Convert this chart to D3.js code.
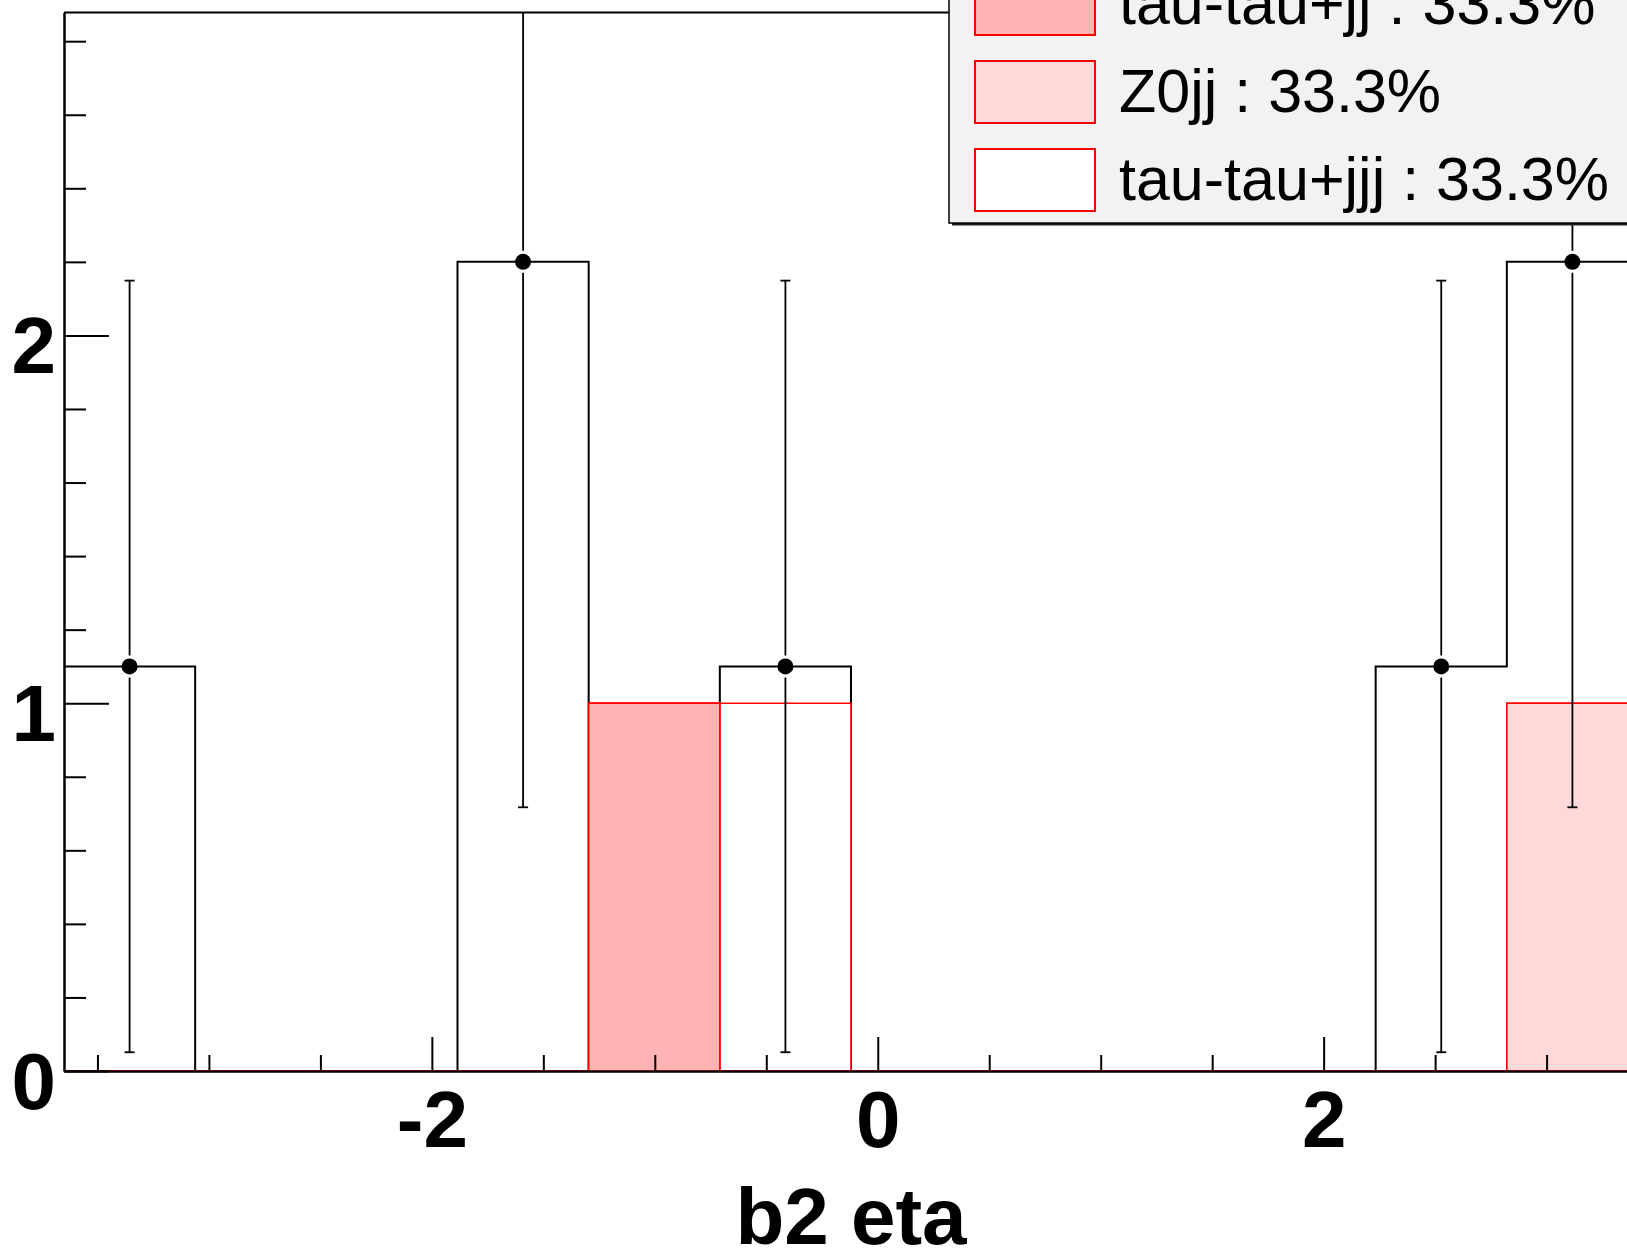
<!DOCTYPE html>
<html>
<head>
<meta charset="utf-8">
<script src="https://cdn.jsdelivr.net/npm/d3@7"></script>
<style>
  html, body { margin: 0; padding: 0; background: #ffffff; }
  svg { display: block; }
  text { font-family: "Liberation Sans", Arial, Helvetica, sans-serif; }
</style>
</head>
<body>
<svg id="chart" width="1627" height="1251"></svg>
<script>
// ---------------- data ----------------
const xRange = [-3.65, 3.41];
const nBins = 12;
const dataValues = [1.1, 0, 0, 2.2, 0, 1.1, 0, 0, 0, 0, 1.1, 2.2];
const dataErrors = [1.049, 0, 0, 1.483, 0, 1.049, 0, 0, 0, 0, 1.049, 1.483];
const ttjjValues  = [0, 0, 0, 0, 1, 0, 0, 0, 0, 0, 0, 0];
const z0jjValues  = [0, 0, 0, 0, 0, 0, 0, 0, 0, 0, 0, 1];
const ttjjjValues = [0, 0, 0, 0, 0, 1, 0, 0, 0, 0, 0, 0];
const seriesKeys   = ["ttjj", "z0jj", "ttjjj"];
const legendLabels = ["tau-tau+jj : 33.3%", "Z0jj : 33.3%", "tau-tau+jjj : 33.3%"];
const seriesFills  = ["#ffb3b3", "#ffd9d9", "#ffffff"];
const xMajorTicks = [-2, 0, 2];
const xMinorTicks = [-3.5, -3, -2.5, -1.5, -1, -0.5, 0.5, 1, 1.5, 2.5, 3];
const yMajorTicks = [0, 1, 2];
const yMinorTicks = [0.2, 0.4, 0.6, 0.8, 1.2, 1.4, 1.6, 1.8, 2.2, 2.4, 2.6, 2.8];
const yMax = 2.878;
const xTitle = "b2 eta";

// ---------------- layout ----------------
const L = 64, R = 1638, T = 12.5, B = 1071;
const svg = d3.select("#chart");
const x = d3.scaleLinear().domain(xRange).range([L, R]);
const y = d3.scaleLinear().domain([0, yMax]).range([B, T]);
const binW = (xRange[1] - xRange[0]) / nBins;
const edges = d3.range(nBins + 1).map(i => xRange[0] + i * binW);

svg.append("defs").append("clipPath").attr("id", "plotclip")
  .append("rect").attr("x", L).attr("y", T).attr("width", R - L).attr("height", B - T);

// frame
svg.append("line").attr("x1", L).attr("x2", R).attr("y1", T).attr("y2", T)
  .attr("stroke", "#000").attr("stroke-width", 2);
svg.append("line").attr("x1", R).attr("x2", R).attr("y1", T).attr("y2", B)
  .attr("stroke", "#000").attr("stroke-width", 2);

const plot = svg.append("g").attr("clip-path", "url(#plotclip)");

function stepPoints(vals) {
  const pts = [[edges[0], 0]];
  vals.forEach((v, i) => { pts.push([edges[i], v]); pts.push([edges[i + 1], v]); });
  pts.push([edges[nBins], 0]);
  return pts;
}
const lineGen = d3.line().x(d => x(d[0])).y(d => y(d[1]));

// stacked MC fills
const table = d3.range(nBins).map(i => ({
  ttjj: ttjjValues[i], z0jj: z0jjValues[i], ttjjj: ttjjjValues[i]
}));
const stacked = d3.stack().keys(seriesKeys)(table);
const areaGen = d3.area().x(d => x(d[0])).y0(y(0)).y1(d => y(d[1]));

// data histogram outline (black)
plot.append("path").attr("d", lineGen(stepPoints(dataValues)))
  .attr("fill", "none").attr("stroke", "#000").attr("stroke-width", 2);

for (let s = stacked.length - 1; s >= 0; s--) {
  const tops = stacked[s].map(d => d[1]);
  const pts = stepPoints(tops);
  plot.append("path").attr("d", areaGen(pts)).attr("fill", seriesFills[s]).attr("stroke", "none");
  plot.append("path").attr("d", lineGen(pts))
    .attr("fill", "none").attr("stroke", "#ff0000").attr("stroke-width", 1.6);
}

// axes
const xAxisMajor = d3.axisBottom(x).tickValues(xMajorTicks).tickSizeInner(-34).tickSizeOuter(0)
  .tickPadding(0).tickFormat(d => d3.format("d")(d).replace("−", "-"));
const xAxisMinor = d3.axisBottom(x).tickValues(xMinorTicks).tickSizeInner(-16).tickSizeOuter(0).tickFormat("");
const yAxisMajor = d3.axisLeft(y).tickValues(yMajorTicks).tickSizeInner(-45).tickSizeOuter(0)
  .tickPadding(0).tickFormat(d3.format("d"));
const yAxisMinor = d3.axisLeft(y).tickValues(yMinorTicks).tickSizeInner(-22).tickSizeOuter(0).tickFormat("");

function styleAxis(g) {
  g.select(".domain").attr("stroke", "#000").attr("stroke-width", 2);
  g.selectAll(".tick line").attr("stroke", "#000").attr("stroke-width", 2);
  g.selectAll("text").attr("font-family", "'Liberation Sans', Arial, Helvetica, sans-serif")
    .attr("font-weight", "bold").attr("font-size", 80).attr("fill", "#000");
}
svg.append("g").attr("transform", `translate(0,${B})`).call(xAxisMinor).call(styleAxis);
const gx = svg.append("g").attr("transform", `translate(0,${B})`).call(xAxisMajor).call(styleAxis);
gx.selectAll("text").attr("dy", null).attr("y", 76);
svg.append("g").attr("transform", `translate(${L},0)`).call(yAxisMinor).call(styleAxis);
const gy = svg.append("g").attr("transform", `translate(${L},0)`).call(yAxisMajor).call(styleAxis);
gy.selectAll("text").attr("dy", null).attr("x", -8).attr("y", 37);

// red MC outline along the baseline over the axis line
const baseG = svg.append("g").attr("clip-path", "url(#plotclip)");
baseG.append("line").attr("x1", x(edges[0]) + 45).attr("x2", R).attr("y1", B).attr("y2", B)
  .attr("stroke", "#a00000").attr("stroke-width", 1.2);

// axis title
svg.append("text").attr("x", (L + R) / 2).attr("y", 1244).attr("text-anchor", "middle")
  .attr("font-weight", "bold").attr("font-size", 80).attr("fill", "#000").text(xTitle);

// data points with error bars
const mr = 8, gap = 3, capW = 5;
const pts = dataValues.map((v, i) => ({ v, e: dataErrors[i], c: (edges[i] + edges[i + 1]) / 2 })).filter(d => d.v > 0);
const eg = plot.append("g");
pts.forEach(d => {
  const cx = x(d.c), cy = y(d.v), yt = y(d.v + d.e), yb = y(d.v - d.e);
  eg.append("line").attr("x1", cx).attr("x2", cx).attr("y1", cy - mr - gap).attr("y2", yt)
    .attr("stroke", "#000").attr("stroke-width", 1.8);
  eg.append("line").attr("x1", cx).attr("x2", cx).attr("y1", cy + mr + gap).attr("y2", yb)
    .attr("stroke", "#000").attr("stroke-width", 1.8);
  eg.append("line").attr("x1", cx - capW).attr("x2", cx + capW).attr("y1", yt).attr("y2", yt)
    .attr("stroke", "#000").attr("stroke-width", 1.8);
  eg.append("line").attr("x1", cx - capW).attr("x2", cx + capW).attr("y1", yb).attr("y2", yb)
    .attr("stroke", "#000").attr("stroke-width", 1.8);
  eg.append("circle").attr("cx", cx).attr("cy", cy).attr("r", mr).attr("fill", "#000");
});

// legend
const lg = svg.append("g");
const lgL = 949, lgB = 223, lgT = -120, lgR = 1700;
lg.append("rect").attr("x", lgL + 3).attr("y", lgT).attr("width", lgR - lgL).attr("height", lgB - lgT + 2.5)
  .attr("fill", "#222");
lg.append("rect").attr("x", lgL).attr("y", lgT).attr("width", lgR - lgL).attr("height", lgB - lgT)
  .attr("fill", "#f2f2f2").attr("stroke", "#000").attr("stroke-width", 1.5);
const entryY = [4, 92, 180];
legendLabels.forEach((lab, i) => {
  const cy = entryY[i];
  lg.append("rect").attr("x", 975).attr("y", cy - 31).attr("width", 120).attr("height", 62)
    .attr("fill", seriesFills[i]).attr("stroke", "#ff0000").attr("stroke-width", 2);
  lg.append("text").attr("x", 1119).attr("y", cy + 20).attr("font-size", 61).attr("fill", "#000").text(lab);
});
</script>
</body>
</html>
